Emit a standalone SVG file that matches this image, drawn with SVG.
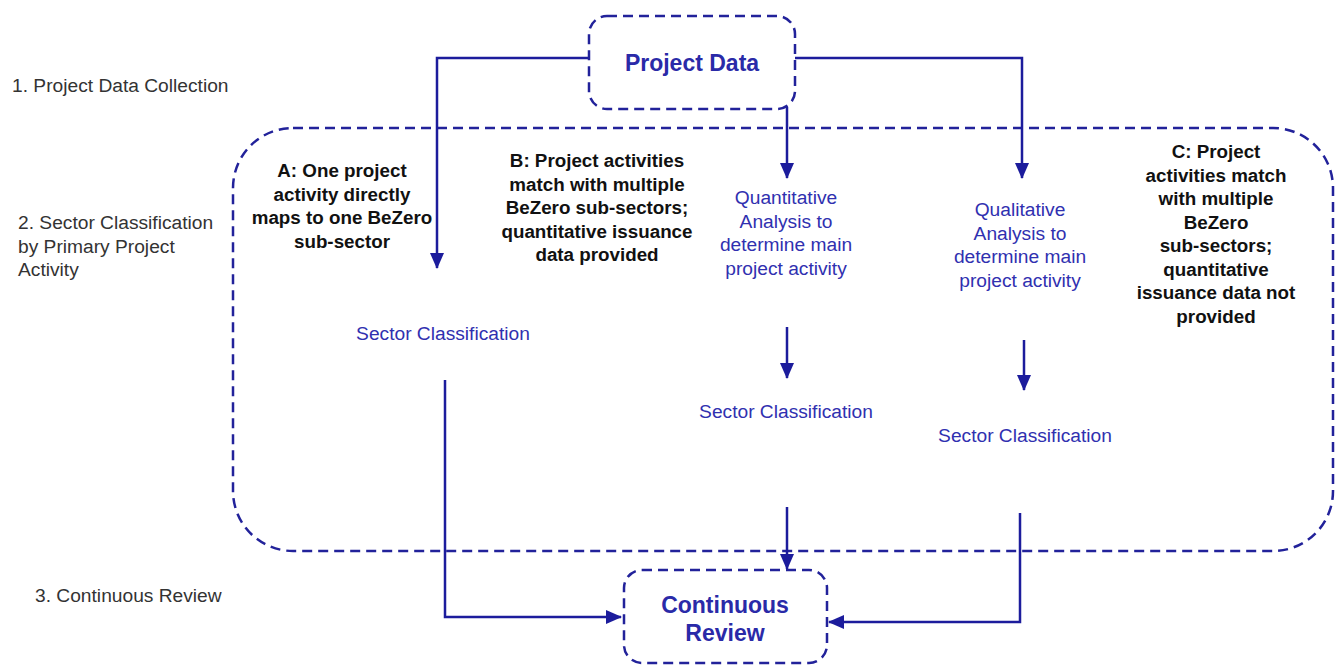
<svg xmlns="http://www.w3.org/2000/svg" width="1335" height="665" viewBox="0 0 1335 665">
<style>
.box{fill:none;stroke:#22229a;stroke-width:2.5;stroke-dasharray:10 6}
.con{fill:none;stroke:#1c1c9c;stroke-width:2.5}
.lab{font-family:"Liberation Sans",Arial,sans-serif;font-size:19.2px;fill:#333}
.bk{font-family:"Liberation Sans",Arial,sans-serif;font-size:18.8px;font-weight:bold;fill:#111;text-anchor:middle}
.bl{font-family:"Liberation Sans",Arial,sans-serif;font-size:19.2px;fill:#3030b0;text-anchor:middle}
.tb{font-family:"Liberation Sans",Arial,sans-serif;font-size:23px;font-weight:bold;fill:#2a2aa8;text-anchor:middle}
</style>
<defs>
<marker id="ah" markerUnits="userSpaceOnUse" markerWidth="16" markerHeight="14" refX="15" refY="7" orient="auto">
<path d="M0,0 L16,7 L0,14 Z" fill="#1c1c9c"/>
</marker>
</defs>
<rect width="1335" height="665" fill="#fff"/>
<g id="phase-labels">
<text class="lab" x="12" y="92">1. Project Data Collection</text>
<text class="lab" x="18" y="229">2. Sector Classification</text>
<text class="lab" x="18" y="252.5">by Primary Project</text>
<text class="lab" x="18" y="276">Activity</text>
<text class="lab" x="35" y="602">3. Continuous Review</text>
</g>
<g id="sector-container">
<rect class="box" x="233" y="128" width="1100" height="423" rx="60"/>
</g>
<g id="connectors">
<path class="con" d="M589 58 H437 V268" marker-end="url(#ah)"/>
<path class="con" d="M795 58 H1022 V178" marker-end="url(#ah)"/>
<path class="con" d="M787 107 V178" marker-end="url(#ah)"/>
<path class="con" d="M787 327 V378" marker-end="url(#ah)"/>
<path class="con" d="M1024 340 V390" marker-end="url(#ah)"/>
<path class="con" d="M445 380 V617 H621" marker-end="url(#ah)"/>
<path class="con" d="M1020 513 V622 H829" marker-end="url(#ah)"/>
<path class="con" d="M787 507 V569" marker-end="url(#ah)"/>
</g>
<g id="project-data">
<rect class="box" x="589" y="16" width="206" height="93" rx="18"/>
<text class="tb" x="692" y="71">Project Data</text>
</g>
<g id="case-a">
<text class="bk" x="342" y="177">A: One project</text>
<text class="bk" x="342" y="200.5">activity directly</text>
<text class="bk" x="342" y="224">maps to one BeZero</text>
<text class="bk" x="342" y="247.5">sub-sector</text>
</g>
<g id="case-b">
<text class="bk" x="597" y="167">B: Project activities</text>
<text class="bk" x="597" y="190.5">match with multiple</text>
<text class="bk" x="597" y="214">BeZero sub-sectors;</text>
<text class="bk" x="597" y="237.5">quantitative issuance</text>
<text class="bk" x="597" y="261">data provided</text>
</g>
<g id="case-c">
<text class="bk" x="1216" y="158">C: Project</text>
<text class="bk" x="1216" y="181.5">activities match</text>
<text class="bk" x="1216" y="205">with multiple</text>
<text class="bk" x="1216" y="228.5">BeZero</text>
<text class="bk" x="1216" y="252">sub-sectors;</text>
<text class="bk" x="1216" y="275.5">quantitative</text>
<text class="bk" x="1216" y="299">issuance data not</text>
<text class="bk" x="1216" y="322.5">provided</text>
</g>
<g id="quantitative-analysis">
<text class="bl" x="786" y="204">Quantitative</text>
<text class="bl" x="786" y="227.5">Analysis to</text>
<text class="bl" x="786" y="251">determine main</text>
<text class="bl" x="786" y="274.5">project activity</text>
</g>
<g id="qualitative-analysis">
<text class="bl" x="1020" y="216">Qualitative</text>
<text class="bl" x="1020" y="239.5">Analysis to</text>
<text class="bl" x="1020" y="263">determine main</text>
<text class="bl" x="1020" y="286.5">project activity</text>
</g>
<g id="sector-classification-a">
<text class="bl" x="443" y="340">Sector Classification</text>
</g>
<g id="sector-classification-b">
<text class="bl" x="786" y="418">Sector Classification</text>
</g>
<g id="sector-classification-c">
<text class="bl" x="1025" y="442">Sector Classification</text>
</g>
<g id="continuous-review">
<rect class="box" x="624" y="570" width="203" height="93" rx="18"/>
<text class="tb" x="725" y="613">Continuous</text>
<text class="tb" x="725" y="641">Review</text>
</g>
</svg>
